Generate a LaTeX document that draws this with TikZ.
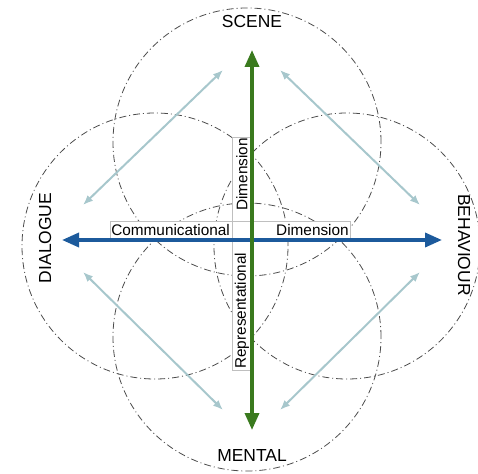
\documentclass[tikz,border=0pt]{standalone}
\usepackage{fontspec}
\setmainfont{Liberation Sans}
\usetikzlibrary{shapes}
\usetikzlibrary{arrows.meta}

\definecolor{axisgreen}{HTML}{3A7A1E}
\definecolor{axisblue}{HTML}{1C5A9C}
\definecolor{linkblue}{HTML}{A7C7CC}

\begin{document}
\begin{tikzpicture}[x=1bp,y=-1bp]
			\tikzstyle{zone}=[draw=black!70, line width=0.8bp, dash pattern=on 7bp off 3bp on 1bp off 3bp]
			\tikzstyle{pole}=[font=\fontsize{17.5}{20}\selectfont, inner sep=0pt]
			\tikzstyle{dimlabel}=[draw=black!25, line width=0.4bp, fill=white, font=\fontsize{15.4}{18}\selectfont, inner sep=1.5bp, minimum height=19bp]
			\tikzstyle{axis}=[line width=3.5bp, {Triangle[length=17bp,width=14bp]}-{Triangle[length=17bp,width=14bp]}]
			\tikzstyle{link}=[draw=linkblue, line width=2bp, {Latex[length=10bp,width=8bp]}-{Latex[length=10bp,width=8bp]}]

			\useasboundingbox (0,0) rectangle (478,474);
			\coordinate (o) at (252,240);

			% the four zones
			\coordinate (cscene) at (247,142);
			\coordinate (cmental) at (247,337);
			\coordinate (cdialogue) at (155,246);
			\coordinate (cbehaviour) at (347,246);
			\draw[zone] (cscene) circle[radius=134bp];
			\draw[zone] (cmental) circle[radius=134bp];
			\draw[zone] (cdialogue) circle[radius=133bp];
			\draw[zone] (cbehaviour) circle[radius=133bp];

			\node[pole] (scene) at (252,22) {SCENE};
			\node[pole] (mental) at (252,455) {MENTAL};
			\node[pole, rotate=90] (dialogue) at (45,238) {DIALOGUE};
			\node[pole, rotate=-90] (behaviour) at (464,245) {BEHAVIOUR};

			% axis labels
			\node[dimlabel, anchor=south east, text width=119bp, align=left] (comm) at (232,240) {Communicational};
			\node[dimlabel, anchor=south west, text width=95bp, align=right] (commdim) at (o) {Dimension};
			\node[dimlabel, rotate=90, anchor=south west, text width=81bp, align=right, minimum height=20bp] (repdim) at (252,221) {Dimension};
			\node[dimlabel, rotate=90, anchor=south east, text width=127bp, align=left, minimum height=20bp] (rep) at (o) {Representational};

			% links between neighbouring zones
			\coordinate (dn) at (83,205);
			\coordinate (ds) at (83,272);
			\coordinate (bn) at (420,205);
			\coordinate (bs) at (420,272);
			\coordinate (sw) at (223,70);
			\coordinate (se) at (280,70);
			\coordinate (mw) at (223,410);
			\coordinate (me) at (280,410);
			\draw[link] (dn) -- (sw);
			\draw[link] (se) -- (bn);
			\draw[link] (ds) -- (mw);
			\draw[link] (bs) -- (me);

			% main axes
			\coordinate (w) at (62,240);
			\coordinate (e) at (442,240);
			\coordinate (n) at (252,50);
			\coordinate (s) at (252,430);
			\draw[axis, axisblue] (w) -- (e);
			\draw[axis, axisgreen] (s) -- (n);
\end{tikzpicture}
\end{document}
